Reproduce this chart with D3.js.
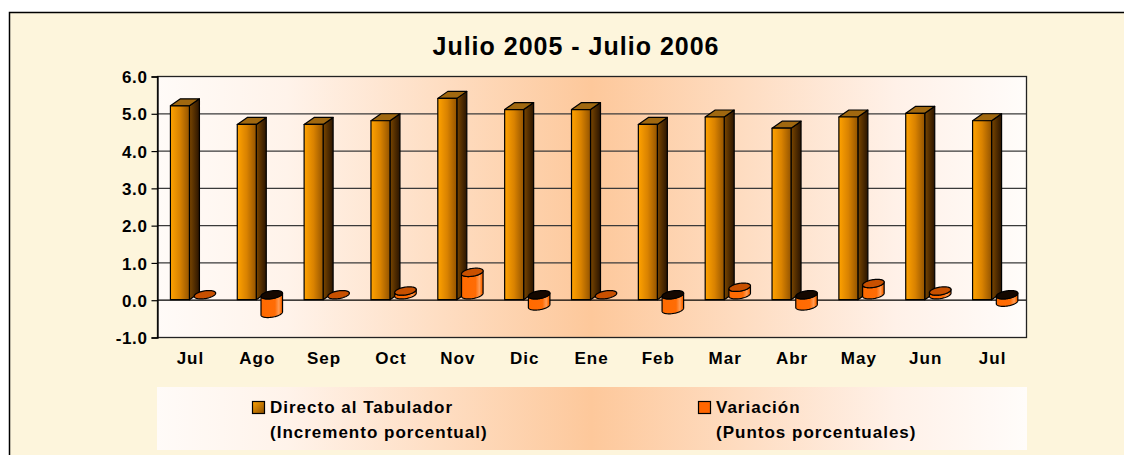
<!DOCTYPE html>
<html>
<head>
<meta charset="utf-8">
<script src="https://d3js.org/d3.v7.min.js"></script>
<style>
  html, body { margin: 0; background: #ffffff; overflow: hidden; }
  svg { display: block; }
  text { font-family: "Liberation Sans", Arial, sans-serif; font-weight: bold; }
</style>
</head>
<body>
<div id="my_dataviz"></div>
<script>
// chart data
var months = ["Jul", "Ago", "Sep", "Oct", "Nov", "Dic", "Ene", "Feb", "Mar", "Abr", "May", "Jun", "Jul"];
var directo = [5.2, 4.7, 4.7, 4.8, 5.4, 5.1, 5.1, 4.7, 4.9, 4.6, 4.9, 5.0, 4.8];
var variacion = [0.0, -0.5, 0.0, 0.1, 0.6, -0.3, 0.0, -0.4, 0.2, -0.3, 0.3, 0.1, -0.2];
var yTicks = [-1, 0, 1, 2, 3, 4, 5, 6];
var title = "Julio 2005 - Julio 2006";
var legendLines = [
  ["Directo al Tabulador", "(Incremento porcentual)"],
  ["Variación", "(Puntos porcentuales)"]
];

var W = 1124, H = 455;
var plot = {left: 157, right: 1026, top: 76, bottom: 337};

var svg = d3.select("#my_dataviz")
  .append("svg")
    .attr("width", W)
    .attr("height", H);

var defs = svg.append("defs");

// peach band used by plot area and legend
var band = defs.append("linearGradient").attr("id", "peach")
  .attr("gradientUnits", "userSpaceOnUse")
  .attr("x1", plot.left).attr("x2", plot.right).attr("y1", 0).attr("y2", 0);
[[0, "#fffbf8"], [0.15, "#fff3ea"], [0.5, "#fdc89b"], [0.85, "#fff1e8"], [1, "#fffcfa"]]
  .forEach(function(s) { band.append("stop").attr("offset", s[0]).attr("stop-color", s[1]); });

function grad(id, stops, x2, y2) {
  var g = defs.append("linearGradient").attr("id", id)
    .attr("x1", 0).attr("y1", 0).attr("x2", x2).attr("y2", y2);
  stops.forEach(function(s) { g.append("stop").attr("offset", s[0]).attr("stop-color", s[1]); });
}
grad("barFront", [[0, "#ffa200"], [0.5, "#d98200"], [1, "#945400"]], 1, 0);
grad("barSide", [[0, "#7a4600"], [1, "#2a1400"]], 1, 0);
grad("cylBody", [[0, "#ff6a00"], [0.65, "#ff6c05"], [0.83, "#ff9c55"], [0.94, "#ff6a00"], [1, "#cc4e00"]], 1, 0);
grad("swatch1", [[0, "#ffa200"], [1, "#8a4e00"]], 1, 1);

// outer frame: only top and left edges are inside the picture
svg.append("rect")
  .attr("x", 9).attr("y", 12)
  .attr("width", W - 9).attr("height", H - 12)
  .attr("fill", "#fdf5dc");
svg.append("path")
  .attr("d", "M9.5," + H + "V12.5H" + W)
  .attr("fill", "none")
  .attr("stroke", "#000").attr("stroke-width", 1.5);

// title
svg.append("text")
  .attr("x", 576).attr("y", 55)
  .attr("text-anchor", "middle")
  .style("font-size", "25px")
  .style("letter-spacing", "1px")
  .text(title);

// scales
var x = d3.scaleBand()
  .domain(d3.range(months.length))
  .range([plot.left, plot.right]);

var y = d3.scaleLinear()
  .domain([-1, 6])
  .range([plot.bottom, plot.top]);

// plot area
svg.append("rect")
  .attr("x", plot.left).attr("y", plot.top)
  .attr("width", plot.right - plot.left).attr("height", plot.bottom - plot.top)
  .attr("fill", "url(#peach)");

// grid lines
svg.append("g")
  .selectAll("line")
  .data(yTicks.filter(function(d) { return d > -1 && d < 6; }))
  .enter().append("line")
    .attr("x1", plot.left).attr("x2", plot.right)
    .attr("y1", function(d) { return y(d) + 0.5; })
    .attr("y2", function(d) { return y(d) + 0.5; })
    .attr("stroke", function(d) { return d === 0 ? "#000" : "#3a3a3a"; })
    .attr("stroke-width", 1.2);

svg.append("rect")
  .attr("x", plot.left + 0.5).attr("y", plot.top + 0.5)
  .attr("width", plot.right - plot.left).attr("height", plot.bottom - plot.top)
  .attr("fill", "none").attr("stroke", "#222").attr("stroke-width", 1.3);

// Y axis (plain hyphen for the minus sign)
var fmt = d3.formatLocale({decimal: ".", thousands: ",", grouping: [3], currency: ["", ""], minus: "-"}).format(".1f");
var yAxis = svg.append("g")
  .attr("transform", "translate(" + (plot.left + 0.5) + ",0.5)")
  .call(d3.axisLeft(y).tickValues(yTicks).tickSize(6).tickPadding(4).tickFormat(fmt));
yAxis.select(".domain").attr("stroke", "#000").attr("stroke-width", 1.3);
yAxis.selectAll(".tick line").attr("stroke", "#000").attr("stroke-width", 1.2);
yAxis.selectAll("text")
  .attr("fill", "#000")
  .attr("dy", "0.36em")
  .style("font-size", "17px")
  .style("letter-spacing", "0.6px");

// X axis labels
var xAxis = svg.append("g")
  .attr("transform", "translate(0," + plot.bottom + ")")
  .call(d3.axisBottom(x).tickSize(0).tickPadding(15)
    .tickFormat(function(i) { return months[i]; }));
xAxis.select(".domain").remove();
xAxis.selectAll("text")
  .attr("fill", "#000")
  .style("font-size", "17px")
  .style("letter-spacing", "1px");

// 3D columns
var dx = 10, dy = 7, bw = 19;
var cols = svg.append("g");
directo.forEach(function(v, i) {
  var c = x(i) + x.bandwidth() / 2;
  var x0 = c - 20, x1 = x0 + bw, top = y(v), base = y(0);
  var g = cols.append("g")
    .attr("stroke", "#000").attr("stroke-width", 1.2).attr("stroke-linejoin", "round");
  g.append("path")
    .attr("d", "M" + x1 + "," + top + "L" + (x1 + dx) + "," + (top - dy) +
      "L" + (x1 + dx) + "," + (base - dy) + "L" + x1 + "," + base + "Z")
    .attr("fill", "url(#barSide)");
  g.append("path")
    .attr("d", "M" + x0 + "," + top + "L" + (x0 + dx) + "," + (top - dy) +
      "L" + (x1 + dx) + "," + (top - dy) + "L" + x1 + "," + top + "Z")
    .attr("fill", "#a06810");
  g.append("rect")
    .attr("x", x0).attr("y", top)
    .attr("width", bw).attr("height", base - top)
    .attr("fill", "url(#barFront)");

  // cylinder for variation
  var vv = variacion[i];
  var cx = c + 14.5, ea = 10, eb = 4, ec = 4.2;
  var t0 = Math.atan2(eb, ea);
  var yU = Math.min(y(vv), base) - 5, yL = Math.max(y(vv), base) - 5;
  function pt(t, yc) { return [cx + ea * Math.cos(t) + eb * Math.sin(t), yc - ec * Math.sin(t)]; }
  var arcL = d3.range(0, 41).map(function(k) { return pt(t0 + Math.PI + Math.PI * k / 40, yL); });
  var arcU = d3.range(0, 41).map(function(k) { return pt(t0 + 2 * Math.PI - Math.PI * k / 40, yU); });
  var line = d3.line();
  if (yL - yU > 0.5) {
    g.append("path")
      .attr("d", line(arcL.concat(arcU)) + "Z")
      .attr("fill", "url(#cylBody)");
  }
  var cap = d3.range(0, 60).map(function(k) { return pt(2 * Math.PI * k / 60, yU); });
  g.append("path")
    .attr("d", line(cap) + "Z")
    .attr("fill", vv < 0 ? "#140800" : "#c85000");
});

// legend
svg.append("rect")
  .attr("x", plot.left).attr("y", 387)
  .attr("width", plot.right - plot.left + 1).attr("height", 63)
  .attr("fill", "url(#peach)");

var legendX = [252, 698];
var swatchFill = ["url(#swatch1)", "#ff6600"];
legendLines.forEach(function(lines, k) {
  svg.append("rect")
    .attr("x", legendX[k] + 0.5).attr("y", 401.5)
    .attr("width", 12).attr("height", 12)
    .attr("fill", swatchFill[k])
    .attr("stroke", "#000").attr("stroke-width", 1.2);
  lines.forEach(function(t, j) {
    svg.append("text")
      .attr("x", legendX[k] + 18).attr("y", 413 + j * 25)
      .style("font-size", "17px")
      .style("letter-spacing", "1px")
      .text(t);
  });
});
</script>
</body>
</html>
